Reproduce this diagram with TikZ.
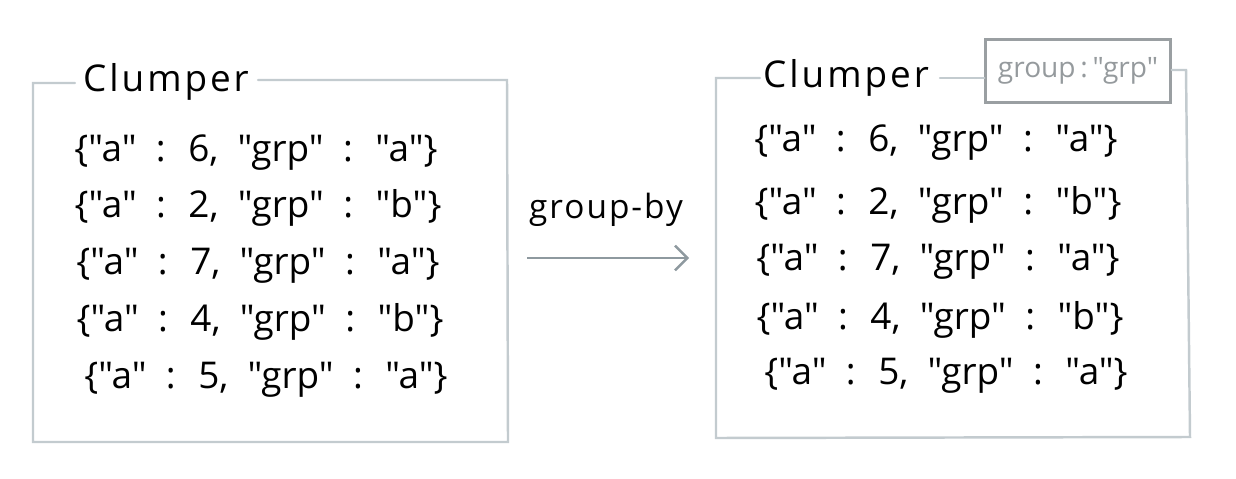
\documentclass[tikz,border=0pt]{standalone}
\usepackage{fontspec}
\setmainfont{Open Sans}
\newfontfamily\hand{Open Sans}
\usetikzlibrary{arrows.meta}
\definecolor{boxline}{HTML}{C3CBCF}
\definecolor{arrowc}{HTML}{8E999F}
\definecolor{grpline}{HTML}{9A9FA2}
\definecolor{grptext}{HTML}{959A9D}
\newlength{\rowspace}
\setlength{\rowspace}{11pt}
\newcommand{\rowfont}{\hand\fontsize{21}{24}\selectfont\spaceskip\rowspace\relax}
\begin{document}
\begin{tikzpicture}[x=0.02cm,y=-0.02cm,
  frame/.style={draw=boxline,line width=1.4pt,line cap=round},
  rowtxt/.style={font=\rowfont,inner sep=0pt,anchor=center},
  title/.style={font=\fontsize{21}{24}\selectfont\addfontfeature{LetterSpace=8},inner sep=0pt},
  lbl/.style={font=\fontsize{19}{22}\selectfont\addfontfeature{LetterSpace=6},inner sep=0pt},
  flow/.style={draw=arrowc,line width=1.4pt,-{Straight Barb[length=7pt,width=14pt,line width=1.4pt]}}]
\useasboundingbox (0,0) rectangle (1236,479);
% left clumper
\node[title] (lt) at (166,82) {Clumper};
\draw[frame] (75,83) -- (33,83) -- (33,442) -- (508,442) -- (507,80) -- (258,80);
\node[rowtxt] (l1) at (256,153) {\{"a" : 6, "grp" : "a"\}};
\node[rowtxt] (l2) at (258,208) {\{"a" : 2, "grp" : "b"\}};
\node[rowtxt] (l3) at (258,266) {\{"a" : 7, "grp" : "a"\}};
\node[rowtxt] (l4) at (260,322) {\{"a" : 4, "grp" : "b"\}};
\node[rowtxt] (l5) at (266,380) {\{"a" : 5, "grp" : "a"\}};
% arrow
\node[lbl] (gb) at (606,210) {group-by};
\coordinate (as) at (527,258);
\coordinate (ae) at (689,258);
\draw[flow] (as) -- (ae);
% right clumper
\node[title] (rt) at (846,78) {Clumper};
\node[draw=grpline,line width=1.4pt,minimum width=3.7cm,minimum height=1.26cm,inner sep=0pt,font=\hand\fontsize{16}{19}\selectfont,text=grptext] (grp) at (1078,71) {group\,:\,"grp"};
\draw[frame] (760,78) -- (716,78) -- (716,438) -- (1190,437) -- (1186,70) -- (grp.east |- 0,70);
\draw[frame] (940,78) -- (grp.west |- 0,78);
\node[rowtxt] (r1) at (936,143) {\{"a" : 6, "grp" : "a"\}};
\node[rowtxt] (r2) at (938,205) {\{"a" : 2, "grp" : "b"\}};
\node[rowtxt] (r3) at (938,262) {\{"a" : 7, "grp" : "a"\}};
\node[rowtxt] (r4) at (940,320) {\{"a" : 4, "grp" : "b"\}};
\node[rowtxt] (r5) at (946,376) {\{"a" : 5, "grp" : "a"\}};
\end{tikzpicture}
\end{document}
